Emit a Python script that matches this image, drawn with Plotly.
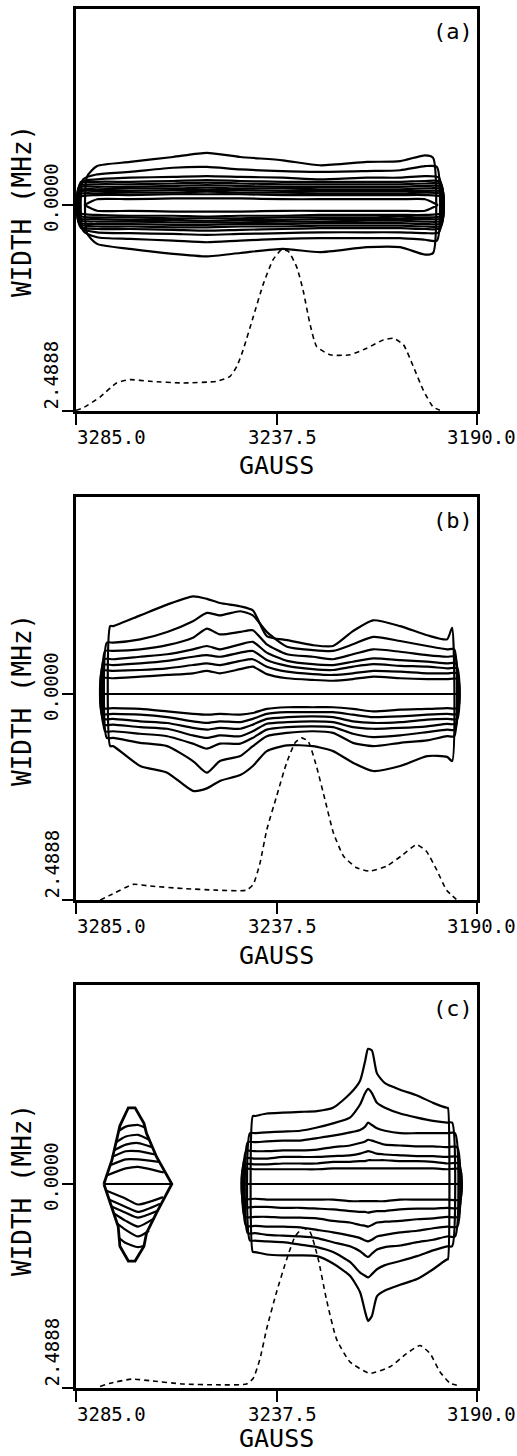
import plotly.graph_objects as go

W, H = 517, 1456
FONT = "DejaVu Sans Mono"

X_TICKS = [3285.0, 3237.5, 3190.0]
X_TICK_TEXT = ["3285.0", "3237.5", "3190.0"]
Y_TICKS = [0.0, 2.4888]
Y_TICK_TEXT = ["0.0000", "2.4888"]
PANEL_LABELS = ["(a)", "(b)", "(c)"]
X_TITLE = "GAUSS"
Y_TITLE = "WIDTH (MHz)"

# ---------------- panel (a) ----------------
A_GRID = [3280.0, 3272.2, 3262.0, 3254.0, 3246.1, 3236.0, 3227.2, 3216.1, 3208.2, 3202.3]
A_XL = [3282.4, 3283.3, 3283.8, 3284.0, 3284.2, 3284.3, 3284.3, 3284.2, 3284.0, 3283.8, 3283.0]
A_XR = [3200.4, 3199.5, 3199.0, 3198.7, 3198.5, 3198.4, 3198.3, 3198.3, 3198.4, 3198.6, 3199.3]
A_UP = [
    [.34, .47, .52, .58, .63, .58, .54, .48, .52, .53, .60, .57],
    [.31, .37, .40, .45, .46, .43, .41, .40, .41, .42, .47, .46],
    [.28, .31, .33, .34, .35, .34, .33, .31, .33, .33, .35, .33],
    [.26, .28, .28, .29, .30, .29, .28, .28, .28, .28, .29, .28],
    [.23, .25, .25, .26, .27, .26, .25, .25, .25, .25, .26, .25],
    [.21, .22, .22, .23, .24, .23, .22, .22, .22, .22, .23, .22],
    [.18, .19, .20, .20, .21, .20, .20, .19, .19, .19, .20, .19],
    [.16, .17, .17, .18, .18, .18, .17, .17, .17, .17, .17, .16],
    [.13, .14, .15, .15, .16, .15, .15, .14, .14, .14, .15, .13],
    [.10, .12, .12, .13, .13, .13, .12, .12, .12, .12, .12, .10],
    [0.0, .07, .07, .08, .08, .08, .07, .07, .07, .07, .07, 0.0],
]
A_LO = [
    [.34, .47, .53, .59, .62, .58, .53, .57, .51, .51, .60, .58],
    [.31, .39, .41, .43, .45, .43, .41, .40, .40, .40, .42, .43],
    [.28, .33, .34, .35, .36, .35, .34, .33, .33, .33, .34, .33],
    [.26, .29, .29, .30, .31, .30, .29, .28, .28, .28, .29, .28],
    [.23, .26, .26, .27, .27, .26, .26, .25, .25, .25, .26, .25],
    [.21, .23, .23, .24, .24, .23, .23, .22, .22, .22, .23, .22],
    [.18, .20, .20, .21, .21, .21, .20, .20, .19, .19, .20, .19],
    [.16, .17, .18, .18, .19, .18, .18, .17, .17, .17, .17, .16],
    [.13, .15, .15, .16, .16, .16, .15, .15, .15, .14, .15, .13],
    [.10, .12, .13, .13, .14, .13, .13, .12, .12, .12, .12, .10],
    [0.0, .07, .07, .08, .08, .08, .07, .07, .07, .07, .07, 0.0],
]
A_SPEC_X = [3285.0, 3283.3, 3279.3, 3275.4, 3272.2, 3267.5, 3259.6, 3251.7, 3248.5, 3246.9,
            3245.4, 3243.0, 3240.6, 3238.3, 3236.3, 3234.7, 3232.7, 3231.2, 3229.6, 3228.0,
            3224.8, 3220.1, 3216.1, 3212.2, 3209.8, 3207.4, 3205.1, 3202.7, 3200.4, 3198.8]
A_SPEC_Y = [2.48, 2.45, 2.32, 2.15, 2.11, 2.13, 2.15, 2.13, 2.07, 1.95,
            1.75, 1.35, 0.95, 0.66, 0.54, 0.56, 0.75, 1.03, 1.43, 1.71,
            1.81, 1.81, 1.73, 1.63, 1.61, 1.69, 1.95, 2.24, 2.44, 2.48]

# ---------------- panel (b) ----------------
B_GRID = [3276.2, 3269.8, 3263.4, 3257.3, 3254.0, 3250.9, 3246.1, 3243.1, 3239.8, 3235.0,
          3228.9, 3224.1, 3219.4, 3214.6, 3208.2, 3201.8, 3197.1]
B_XL = [3276.9, 3277.7, 3278.1, 3278.4, 3278.6, 3278.8, 3278.8]
B_XR = [3195.9, 3195.4, 3195.2, 3195.0, 3194.7, 3194.7, 3194.5]
B_UP = [
    [.82, .82, .95, 1.08, 1.18, 1.15, 1.10, 1.06, 1.01, .70, .65, .59, .58, .76, .89, .82, .71, .66, .80],
    [.62, .62, .66, .75, .88, .98, .95, 1.00, .95, .75, .57, .53, .52, .60, .69, .64, .58, .54, .54],
    [.52, .52, .54, .59, .68, .79, .72, .75, .77, .60, .48, .45, .42, .48, .54, .51, .47, .45, .45],
    [.42, .42, .45, .48, .54, .58, .54, .60, .63, .50, .40, .36, .35, .39, .43, .41, .39, .37, .37],
    [.35, .35, .37, .40, .45, .47, .45, .50, .52, .41, .34, .30, .29, .33, .36, .34, .33, .31, .31],
    [.28, .28, .29, .31, .35, .37, .35, .40, .42, .33, .27, .24, .23, .25, .28, .27, .25, .25, .25],
    [.19, .19, .21, .23, .25, .28, .25, .30, .33, .24, .19, .17, .16, .18, .21, .19, .18, .18, .18],
]
B_LO = [
    [.63, .63, .87, .95, 1.17, 1.14, 1.05, .98, .87, .69, .62, .63, .69, .83, .93, .87, .75, .76, .81],
    [.53, .53, .59, .63, .81, .95, .81, .75, .63, .51, .47, .45, .47, .59, .63, .59, .56, .51, .51],
    [.45, .45, .48, .51, .60, .66, .60, .60, .53, .43, .40, .39, .40, .48, .52, .50, .46, .43, .43],
    [.37, .37, .40, .42, .50, .53, .50, .51, .45, .36, .34, .33, .34, .40, .42, .41, .39, .36, .36],
    [.30, .30, .33, .35, .41, .43, .41, .42, .37, .30, .28, .27, .28, .33, .35, .34, .31, .30, .30],
    [.24, .24, .25, .28, .33, .35, .33, .34, .30, .24, .22, .22, .22, .25, .28, .27, .25, .24, .24],
    [.17, .17, .18, .21, .24, .25, .24, .25, .23, .18, .16, .16, .16, .18, .21, .19, .18, .17, .17],
]
B_MID_X = [3278.8, 3194.0]
B_SPEC_X = [3279.3, 3276.9, 3271.4, 3267.5, 3259.6, 3251.7, 3244.6, 3243.0, 3241.4, 3239.8,
            3237.5, 3235.1, 3233.1, 3231.6, 3230.0, 3228.0, 3226.0, 3224.0, 3221.6, 3218.5,
            3215.4, 3211.4, 3207.5, 3204.3, 3202.0, 3199.6, 3197.2, 3194.9]
B_SPEC_Y = [2.49, 2.43, 2.30, 2.32, 2.35, 2.37, 2.37, 2.30, 2.04, 1.64,
            1.24, 0.83, 0.59, 0.53, 0.57, 0.88, 1.28, 1.68, 1.96, 2.10,
            2.14, 2.08, 1.94, 1.82, 1.90, 2.12, 2.37, 2.48]

# ---------------- panel (c) ----------------
C_GRID = [3242.6, 3239.8, 3236.0, 3231.9, 3227.9, 3224.1, 3220.1, 3217.7, 3216.5, 3215.8,
          3214.9, 3213.7, 3211.8, 3208.2, 3204.2, 3200.4, 3197.1]
C_XL = [3243.1, 3243.8, 3244.3, 3244.7, 3245.0, 3245.2, 3245.4]
C_XR = [3196.9, 3195.9, 3195.2, 3194.7, 3194.5, 3194.3, 3194.0]
C_UP = [
    [.83, .83, .86, .87, .88, .89, .93, 1.10, 1.26, 1.50, 1.65, 1.63, 1.35, 1.23, 1.15, 1.08, .99, .93, .93],
    [.62, .62, .63, .64, .65, .69, .74, .81, .97, 1.11, 1.16, 1.11, .99, .93, .86, .81, .77, .75, .75],
    [.51, .51, .52, .53, .53, .56, .59, .63, .66, .70, .75, .72, .68, .65, .62, .62, .62, .62, .62],
    [.40, .40, .40, .41, .41, .42, .45, .47, .50, .52, .54, .53, .51, .48, .47, .46, .46, .45, .45],
    [.31, .31, .31, .33, .33, .33, .34, .35, .37, .39, .40, .39, .37, .36, .35, .34, .34, .33, .33],
    [.24, .24, .24, .25, .25, .25, .27, .27, .28, .28, .29, .29, .29, .29, .28, .28, .27, .25, .25],
    [.18, .18, .18, .18, .18, .18, .19, .19, .19, .19, .19, .19, .19, .19, .19, .19, .19, .18, .18],
]
C_LO = [
    [.83, .83, .86, .87, .87, .88, .97, 1.12, 1.32, 1.56, 1.67, 1.61, 1.37, 1.30, 1.23, 1.16, 1.04, .92, .92],
    [.69, .69, .70, .71, .74, .77, .83, .95, 1.08, 1.12, 1.14, 1.10, 1.04, .99, .94, .88, .81, .76, .76],
    [.60, .60, .62, .63, .64, .66, .71, .76, .82, .87, .89, .85, .80, .77, .75, .71, .68, .64, .64],
    [.51, .51, .52, .52, .53, .56, .59, .63, .66, .69, .70, .68, .64, .62, .59, .57, .54, .52, .52],
    [.40, .40, .40, .41, .41, .42, .45, .47, .50, .51, .52, .50, .47, .46, .45, .43, .42, .40, .40],
    [.28, .28, .28, .29, .29, .30, .31, .33, .34, .34, .35, .34, .33, .33, .31, .30, .30, .29, .29],
    [.18, .18, .19, .19, .19, .19, .19, .21, .21, .21, .21, .21, .21, .21, .19, .19, .19, .19, .19],
]
C_MID_X = [3245.4, 3194.0]
# small diamond on the left of panel (c)
D_OUT_X = [3278.4, 3276.5, 3275.0, 3274.6, 3272.6, 3271.0, 3268.9, 3268.3, 3265.9, 3262.3]
D_OUT_UP = [0.0, .29, .62, .71, .93, .93, .74, .62, .33, 0.0]
D_OUT_LO = [0.0, .28, .52, .76, .94, .94, .76, .60, .35, 0.0]
D_MID = [3273.2, 3270.3]
D_UP_XL = [3274.8, 3275.5, 3276.0, 3276.5, 3276.9, 3277.9]
D_UP_XR = [3268.7, 3267.7, 3267.0, 3266.3, 3265.3, 3264.2]
D_UP_Y = [[.65, .70, .72, .69], [.51, .58, .60, .54], [.41, .48, .50, .45],
          [.33, .40, .40, .36], [.23, .30, .30, .27], [.10, .19, .21, .14]]
D_LO_XL = [3277.9, 3277.2, 3276.7, 3276.0, 3275.3, 3274.8]
D_LO_XR = [3264.4, 3265.1, 3265.8, 3266.5, 3267.7, 3268.7]
D_LO_Y = [[.08, .18, .25, .16], [.19, .28, .34, .24], [.27, .35, .41, .33],
          [.36, .45, .52, .42], [.48, .56, .64, .57], [.66, .72, .77, .75]]
C_SPEC_X = [3279.3, 3276.9, 3271.8, 3267.5, 3259.6, 3251.7, 3244.6, 3243.0, 3241.4, 3239.8,
            3237.5, 3235.1, 3233.1, 3231.3, 3229.6, 3227.6, 3225.7, 3223.3, 3220.1, 3215.4,
            3210.6, 3206.7, 3203.5, 3201.1, 3198.8, 3196.4, 3194.4]
C_SPEC_Y = [2.47, 2.43, 2.38, 2.40, 2.44, 2.45, 2.44, 2.37, 2.13, 1.76,
            1.32, 0.92, 0.64, 0.54, 0.58, 0.92, 1.40, 1.89, 2.17, 2.31,
            2.23, 2.07, 1.97, 2.07, 2.29, 2.43, 2.46]

# ---------------- layout geometry ----------------
X_DOMAIN = [76 / W, 477 / W]
Y_DOMAINS = [[1 - 411 / H, 1 - 9 / H], [1 - 900 / H, 1 - 497 / H], [1 - 1388 / H, 1 - 985 / H]]
Y_RANGES = [[2.4888, -2.368], [2.4888, -2.380], [2.4888, -2.428]]
TITLE_SHIFT = [-55, -55, -50]

fig = go.Figure()
LINE = dict(color="black", width=2.2, shape="spline", smoothing=0.6)


def closed(xl, grid, xr, up, lo):
    xs = [xl] + list(grid) + [xr]
    px = xs + xs[::-1] + [xs[0]]
    py = [-u for u in up] + lo[::-1] + [-up[0]]
    return px, py


def add_line(x, y, ax, line=LINE):
    fig.add_trace(go.Scatter(x=x, y=y, mode="lines", line=line, xaxis="x" + ax, yaxis="y" + ax,
                             hoverinfo="skip", showlegend=False))


def add_spec(x, y, ax):
    add_line(x, y, ax, dict(color="black", width=1.6, dash="5px,4px", shape="spline", smoothing=0.5))


# panel a
for k in range(len(A_UP)):
    px, py = closed(A_XL[k], A_GRID, A_XR[k], A_UP[k], A_LO[k])
    add_line(px, py, "")
add_spec(A_SPEC_X, A_SPEC_Y, "")

# panel b
for k in range(len(B_UP)):
    px, py = closed(B_XL[k], B_GRID, B_XR[k], B_UP[k], B_LO[k])
    add_line(px, py, "2")
add_line(B_MID_X, [0, 0], "2")
add_spec(B_SPEC_X, B_SPEC_Y, "2")

# panel c
for k in range(len(C_UP)):
    px, py = closed(C_XL[k], C_GRID, C_XR[k], C_UP[k], C_LO[k])
    add_line(px, py, "3")
add_line(C_MID_X, [0, 0], "3")
dx = D_OUT_X + D_OUT_X[::-1]
dy = [-u for u in D_OUT_UP] + D_OUT_LO[::-1]
add_line(dx, dy, "3", dict(color="black", width=2.8))
add_line([D_OUT_X[0], D_OUT_X[-1]], [0, 0], "3")
for k in range(len(D_UP_Y)):
    add_line([D_UP_XL[k]] + D_MID + [D_UP_XR[k]], [-v for v in D_UP_Y[k]], "3")
for k in range(len(D_LO_Y)):
    add_line([D_LO_XL[k]] + D_MID + [D_LO_XR[k]], D_LO_Y[k], "3")
add_spec(C_SPEC_X, C_SPEC_Y, "3")

layout = dict(width=W, height=H, margin=dict(l=0, r=0, t=0, b=0),
              paper_bgcolor="white", plot_bgcolor="white", showlegend=False)
annotations = []
for i in range(3):
    sfx = "" if i == 0 else str(i + 1)
    layout["xaxis" + sfx] = dict(domain=X_DOMAIN, range=[3285.0, 3190.0], anchor="y" + sfx,
                                 tickvals=X_TICKS, ticks="outside", ticklen=11, tickwidth=2,
                                 tickcolor="black", showticklabels=False, showgrid=False,
                                 zeroline=False, showline=True, mirror=True, linewidth=3,
                                 linecolor="black")
    layout["yaxis" + sfx] = dict(domain=Y_DOMAINS[i], range=Y_RANGES[i], anchor="x" + sfx,
                                 tickvals=Y_TICKS, ticks="outside", ticklen=11, tickwidth=2,
                                 tickcolor="black", showticklabels=False, showgrid=False,
                                 zeroline=False, showline=True, mirror=True, linewidth=3,
                                 linecolor="black")
    xr = "x" + sfx
    yd = "y" + sfx + " domain"
    tf = dict(family=FONT, size=19, color="black")
    # x tick labels
    annotations.append(dict(x=X_TICKS[0], y=0, xref=xr, yref=yd, text=X_TICK_TEXT[0], showarrow=False,
                            xanchor="left", yanchor="middle", yshift=-26, xshift=-1, font=tf))
    annotations.append(dict(x=X_TICKS[1], y=0, xref=xr, yref=yd, text=X_TICK_TEXT[1], showarrow=False,
                            xanchor="center", yanchor="middle", yshift=-26, xshift=6, font=tf))
    annotations.append(dict(x=X_TICKS[2], y=0, xref=xr, yref=yd, text=X_TICK_TEXT[2], showarrow=False,
                            xanchor="center", yanchor="middle", yshift=-26, xshift=4, font=tf))
    # x title
    annotations.append(dict(x=X_TICKS[1], y=0, xref=xr, yref=yd, text=X_TITLE, showarrow=False,
                            xanchor="center", yanchor="middle", yshift=TITLE_SHIFT[i],
                            font=dict(family=FONT, size=25, color="black")))
    # y tick labels
    annotations.append(dict(x=51 / W, y=Y_TICKS[0], xref="paper", yref="y" + sfx, text=Y_TICK_TEXT[0],
                            showarrow=False, textangle=-90, xanchor="center", yanchor="middle",
                            yshift=7, font=tf))
    annotations.append(dict(x=51 / W, y=Y_TICKS[1], xref="paper", yref="y" + sfx, text=Y_TICK_TEXT[1],
                            showarrow=False, textangle=-90, xanchor="center", yanchor="bottom",
                            yshift=-1, font=tf))
    # y title
    annotations.append(dict(x=22 / W, y=0, xref="paper", yref="y" + sfx, text=Y_TITLE,
                            showarrow=False, textangle=-90, xanchor="center", yanchor="middle",
                            yshift=-6, font=dict(family=FONT, size=26, color="black")))
    # panel label
    annotations.append(dict(x=453 / W, y=1, xref="paper", yref=yd, text=PANEL_LABELS[i],
                            showarrow=False, xanchor="center", yanchor="middle", yshift=-23,
                            font=dict(family=FONT, size=22, color="black")))
layout["annotations"] = annotations
fig.update_layout(**layout)
fig.write_html("out.html")
